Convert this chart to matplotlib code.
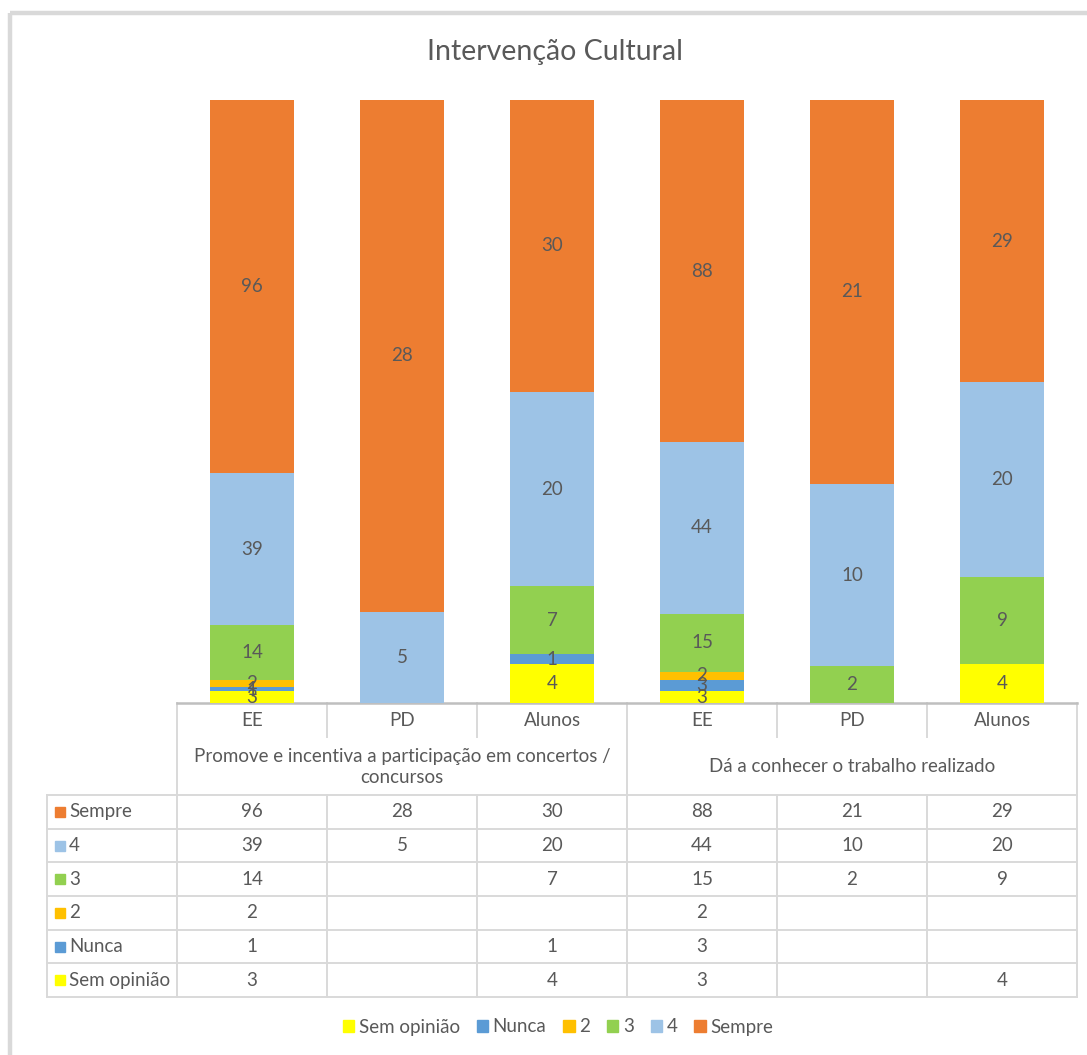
import matplotlib.pyplot as plt
import matplotlib.patches as mpatches
import numpy as np

plt.rcParams['font.family'] = ['Lato', 'DejaVu Sans']

# data
groups = ["Promove e incentiva a participação em concertos /\nconcursos",
          "Dá a conhecer o trabalho realizado"]
respondents = ["EE", "PD", "Alunos", "EE", "PD", "Alunos"]
series_names = ["Sem opinião", "Nunca", "2", "3", "4", "Sempre"]
sem_opiniao = [3, 0, 4, 3, 0, 4]
nunca = [1, 0, 1, 3, 0, 0]
dois = [2, 0, 0, 2, 0, 0]
tres = [14, 0, 7, 15, 2, 9]
quatro = [39, 5, 20, 44, 10, 20]
sempre = [96, 28, 30, 88, 21, 29]
colors = ["#FFFF00", "#5B9BD5", "#FFC000", "#92D050", "#9DC3E6", "#ED7D31"]

series = [sem_opiniao, nunca, dois, tres, quatro, sempre]
vals = np.array(series, dtype=float)
totals = vals.sum(axis=0)
frac = vals / totals

W, H = 1087, 1055
fig = plt.figure(figsize=(W / 100, H / 100), dpi=100)
txt = "#595959"
grid = "#D9D9D9"
fs = 13.5

# overlay in pixel coords
ov = fig.add_axes([0, 0, 1, 1])
ov.set_xlim(0, W)
ov.set_ylim(H, 0)
ov.axis('off')

# bar area
L, R, T, B = 177, 1077, 100, 703
ax = fig.add_axes([L / W, 1 - B / H, (R - L) / W, (B - T) / H])
ax.set_xlim(0, 6)
ax.set_ylim(0, 1)
ax.axis('off')

x = np.arange(6) + 0.5
bottom = np.zeros(6)
for i in range(len(series)):
    ax.bar(x, frac[i], 0.56, bottom=bottom, color=colors[i], zorder=2)
    for j in range(6):
        if vals[i, j] > 0:
            ax.text(x[j], bottom[j] + frac[i, j] / 2, str(int(vals[i, j])),
                    ha='center', va='center', fontsize=fs, color=txt, zorder=3)
    bottom += frac[i]

# chart frame
ov.plot([10, W], [13, 13], color=grid, lw=3.2, solid_capstyle='butt')
ov.plot([10, 10], [13, H], color=grid, lw=3.2, solid_capstyle='butt')

ov.text(555, 52, "Intervenção Cultural", ha='center', va='center',
        fontsize=20.5, color=txt)

# table
cols = [177 + 150 * k for k in range(7)]
row_h = (997 - 795) / 6
rows_y = [795 + row_h * k for k in range(7)]
lw = 1.4
ov.plot([177, 1077], [703, 703], color="#BFBFBF", lw=1.8, zorder=5)
for y in rows_y:
    ov.plot([47, 1077], [y, y], color=grid, lw=lw)
ov.plot([47, 47], [795, 997], color=grid, lw=lw)
for cx in [177, 627, 1077]:
    ov.plot([cx, cx], [703, 997], color=grid, lw=lw)
for cx in [327, 477, 777, 927]:
    ov.plot([cx, cx], [703, 737], color=grid, lw=lw)
    ov.plot([cx, cx], [795, 997], color=grid, lw=lw)

for j, r in enumerate(respondents):
    ov.text(cols[j] + 75, 720, r, ha='center', va='center', fontsize=fs, color=txt)
for g, name in enumerate(groups):
    ov.text(177 + 450 * g + 225, 767, name, ha='center', va='center',
            fontsize=fs, color=txt, linespacing=1.3)

table_order = list(range(len(series)))[::-1]
for k, i in enumerate(table_order):
    yc = rows_y[k] + row_h / 2
    ov.add_patch(mpatches.Rectangle((55, yc - 5), 10, 10, color=colors[i]))
    ov.text(69, yc, series_names[i], ha='left', va='center', fontsize=fs, color=txt)
    for j in range(6):
        if vals[i, j] > 0:
            ov.text(cols[j] + 75, yc, str(int(vals[i, j])), ha='center',
                    va='center', fontsize=fs, color=txt)

handles = [mpatches.Patch(color=colors[i], label=series_names[i]) for i in range(len(series))]
fig.legend(handles=handles, loc='center', bbox_to_anchor=(558 / W, 1 - 1027 / H),
           ncol=6, frameon=False, fontsize=fs, labelcolor=txt, handlelength=0.6,
           handleheight=0.6, handletextpad=0.25, columnspacing=0.9)

fig.savefig("out.png", dpi=100)
